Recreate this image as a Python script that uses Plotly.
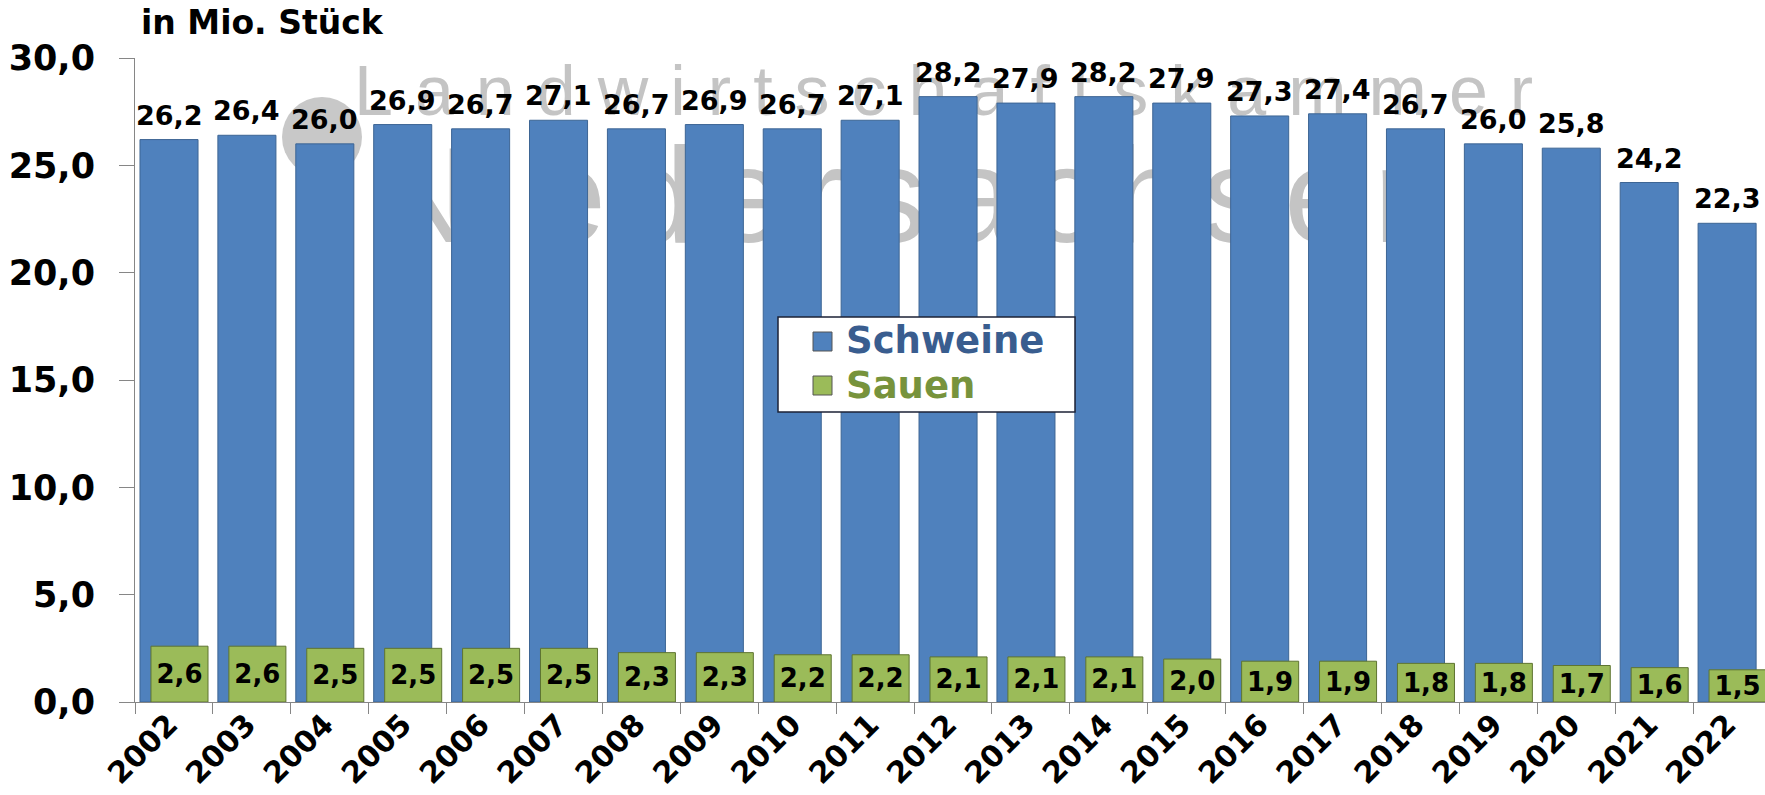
import plotly.graph_objects as go

# ---------------- data ----------------
years = ["2002", "2003", "2004", "2005", "2006", "2007", "2008", "2009", "2010", "2011",
         "2012", "2013", "2014", "2015", "2016", "2017", "2018", "2019", "2020", "2021", "2022"]
schweine = [26.2, 26.4, 26.0, 26.9, 26.7, 27.1, 26.7, 26.9, 26.7, 27.1,
            28.2, 27.9, 28.2, 27.9, 27.3, 27.4, 26.7, 26.0, 25.8, 24.2, 22.3]
sauen = [2.6, 2.6, 2.5, 2.5, 2.5, 2.5, 2.3, 2.3, 2.2, 2.2,
         2.1, 2.1, 2.1, 2.0, 1.9, 1.9, 1.8, 1.8, 1.7, 1.6, 1.5]
series_names = ["Schweine", "Sauen"]
unit_label = "in Mio. Stück"
watermark_lines = ["Landwirtschaftskammer", "Niedersachsen"]

# ---------------- layout geometry ----------------
W, H = 1765, 795
PL, PR, PT, PB = 135, 1765, 58, 702
X_MAX = 20.423


def px_x(px):
    return (px - PL) / (PR - PL)


def px_y(py):
    return (PB - py) / (PB - PT)


def de(v):
    return f"{v:.1f}".replace(".", ",")


BLUE = "#4f81bd"
GREEN = "#9bbb59"
FONT = "DejaVu Sans"
BLUE_W, BLUE_OFF = 0.745, -0.436
GREEN_W, GREEN_OFF = 0.732, -0.295

fig = go.Figure()

fig.add_bar(
    x=years, y=schweine, name=series_names[0],
    marker=dict(color=BLUE, line=dict(color="#3d6594", width=1)),
    width=BLUE_W, offset=BLUE_OFF,
)
fig.add_bar(
    x=years, y=sauen, name=series_names[1],
    marker=dict(color=GREEN, line=dict(color="#5e7431", width=1)),
    width=GREEN_W, offset=GREEN_OFF,
    texttemplate="%{y:.1f}", textposition="inside", insidetextanchor="middle",
    textfont=dict(family=FONT, size=26, color="black", weight="bold"),
    constraintext="none", textangle=0,
)

shapes = [
    # watermark (behind bars)
    dict(type="circle", xref="paper", yref="paper",
         x0=px_x(282), x1=px_x(362), y0=px_y(177), y1=px_y(97),
         fillcolor="#c8c8c8", line=dict(width=0), layer="below"),
    dict(type="rect", xref="paper", yref="paper",
         x0=px_x(351), x1=px_x(1552), y0=px_y(114), y1=px_y(54),
         fillcolor="rgba(0,0,0,0)", line=dict(width=0), layer="below",
         label=dict(text='<span style="letter-spacing:22px">' + watermark_lines[0] + "</span>",
                    font=dict(family="Liberation Sans", size=70, color="#c4c4c4"),
                    textposition="middle left", xanchor="left", padding=0)),
    dict(type="rect", xref="paper", yref="paper",
         x0=px_x(371), x1=px_x(1385), y0=px_y(212), y1=px_y(152),
         fillcolor="rgba(0,0,0,0)", line=dict(width=0), layer="below",
         label=dict(text='<span style="letter-spacing:14px">' + watermark_lines[1] + "</span>",
                    font=dict(family="Liberation Sans", size=136, color="#c4c4c4"),
                    textposition="middle left", xanchor="left", padding=0)),
    # legend box
    dict(type="rect", xref="paper", yref="paper",
         x0=px_x(778), x1=px_x(1075), y0=px_y(412), y1=px_y(317),
         fillcolor="white", line=dict(color="#1c2236", width=1.5), layer="above"),
    dict(type="rect", xref="paper", yref="paper",
         x0=px_x(813), x1=px_x(832), y0=px_y(351), y1=px_y(332),
         fillcolor=BLUE, line=dict(color="#555555", width=1), layer="above"),
    dict(type="rect", xref="paper", yref="paper",
         x0=px_x(813), x1=px_x(832), y0=px_y(395), y1=px_y(376),
         fillcolor=GREEN, line=dict(color="#555555", width=1), layer="above"),
]

annotations = [
    dict(text=unit_label, xref="paper", yref="paper", x=px_x(139), y=px_y(22),
         xanchor="left", yanchor="middle", showarrow=False,
         font=dict(family=FONT, size=33, color="black", weight="bold")),
    dict(text=series_names[0], xref="paper", yref="paper", x=px_x(844), y=px_y(340),
         xanchor="left", yanchor="middle", showarrow=False,
         font=dict(family=FONT, size=37, color="#395d8f", weight="bold")),
    dict(text=series_names[1], xref="paper", yref="paper", x=px_x(844), y=px_y(385),
         xanchor="left", yanchor="middle", showarrow=False,
         font=dict(family=FONT, size=37, color="#77933c", weight="bold")),
]

# value labels above the Schweine bars, centred on the (offset) blue bars
# (category axes place annotations by category serial number)
for i, v in enumerate(schweine):
    annotations.append(dict(
        x=i + BLUE_OFF + BLUE_W / 2, y=v, xref="x", yref="y", text=de(v), showarrow=False,
        xanchor="center", yanchor="bottom", yshift=7,
        font=dict(family=FONT, size=27, color="black", weight="bold"),
    ))

fig.update_layout(
    width=W, height=H,
    margin=dict(l=PL, r=W - PR, t=PT, b=H - PB, pad=0),
    barmode="overlay", separators=",.", showlegend=False,
    plot_bgcolor="white", paper_bgcolor="white",
    shapes=shapes, annotations=annotations,
    xaxis=dict(type="category", range=[-0.5, X_MAX], showline=True, linecolor="#868686",
               linewidth=1, ticks="outside", ticklen=11, tickcolor="#868686",
               tickson="boundaries", tickangle=-45, showgrid=False, zeroline=False,
               automargin=False, ticklabelstandoff=-8, ticklabelshift=-5,
               tickfont=dict(family=FONT, size=30, color="black", weight="bold")),
    yaxis=dict(range=[0, 30], tick0=0, dtick=5, tickformat=".1f", showline=True,
               linecolor="#868686", linewidth=1, ticks="outside", ticklen=15,
               tickcolor="#868686", ticklabelstandoff=17, showgrid=False, zeroline=False,
               automargin=False,
               tickfont=dict(family=FONT, size=35, color="black", weight="bold")),
)

fig.write_html(
    "out.html",
    config={"displayModeBar": False},
    post_script="document.body.style.margin='0';document.body.style.overflow='hidden';",
)
